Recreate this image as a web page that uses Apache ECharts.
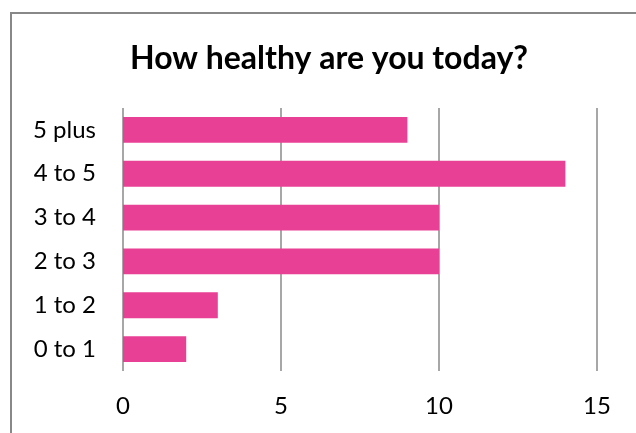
<!DOCTYPE html>
<html>
<head>
<meta charset="utf-8">
<script src="https://cdn.jsdelivr.net/npm/echarts@6/dist/echarts.min.js"></script>
<style>
html,body{margin:0;padding:0;background:#fff;}
#chart{width:636px;height:433px;}
</style>
</head>
<body>
<div id="chart"></div>
<script>
const categories = ['0 to 1', '1 to 2', '2 to 3', '3 to 4', '4 to 5', '5 plus'];
const values = [2, 3, 10, 10, 14, 9];
const xTicks = [0, 5, 10, 15];
const titleText = 'How healthy are you today?';

const chart = echarts.init(document.getElementById('chart'), null, {renderer: 'canvas'});
chart.setOption({
  animation: false,
  backgroundColor: '#fff',
  title: {
    text: titleText,
    left: 324,
    textAlign: 'center',
    top: 38,
    textStyle: {fontFamily: 'Lato', fontWeight: 'bold', fontSize: 32, color: '#000'}
  },
  graphic: [{
    type: 'rect',
    shape: {x: 11, y: 13, width: 700, height: 500},
    style: {fill: 'none', stroke: '#888', lineWidth: 2},
    silent: true,
    z: 100
  }],
  grid: {left: 123, right: 39, top: 108, bottom: 62, containLabel: false},
  xAxis: {
    type: 'value',
    min: xTicks[0],
    max: xTicks[xTicks.length - 1],
    interval: 5,
    axisLine: {show: false},
    axisTick: {show: false},
    splitLine: {show: true, lineStyle: {color: '#8a8a8a', width: 1.5}},
    axisLabel: {
      margin: 23,
      fontFamily: 'Lato',
      fontSize: 24,
      color: '#000'
    }
  },
  yAxis: {
    type: 'category',
    data: categories,
    axisLine: {show: false},
    axisTick: {show: false},
    axisLabel: {margin: 27, fontFamily: 'Lato', fontSize: 24, color: '#000'}
  },
  series: [{
    type: 'bar',
    data: values,
    barCategoryGap: '41%',
    itemStyle: {color: '#E84095'}
  }]
});
</script>
</body>
</html>
